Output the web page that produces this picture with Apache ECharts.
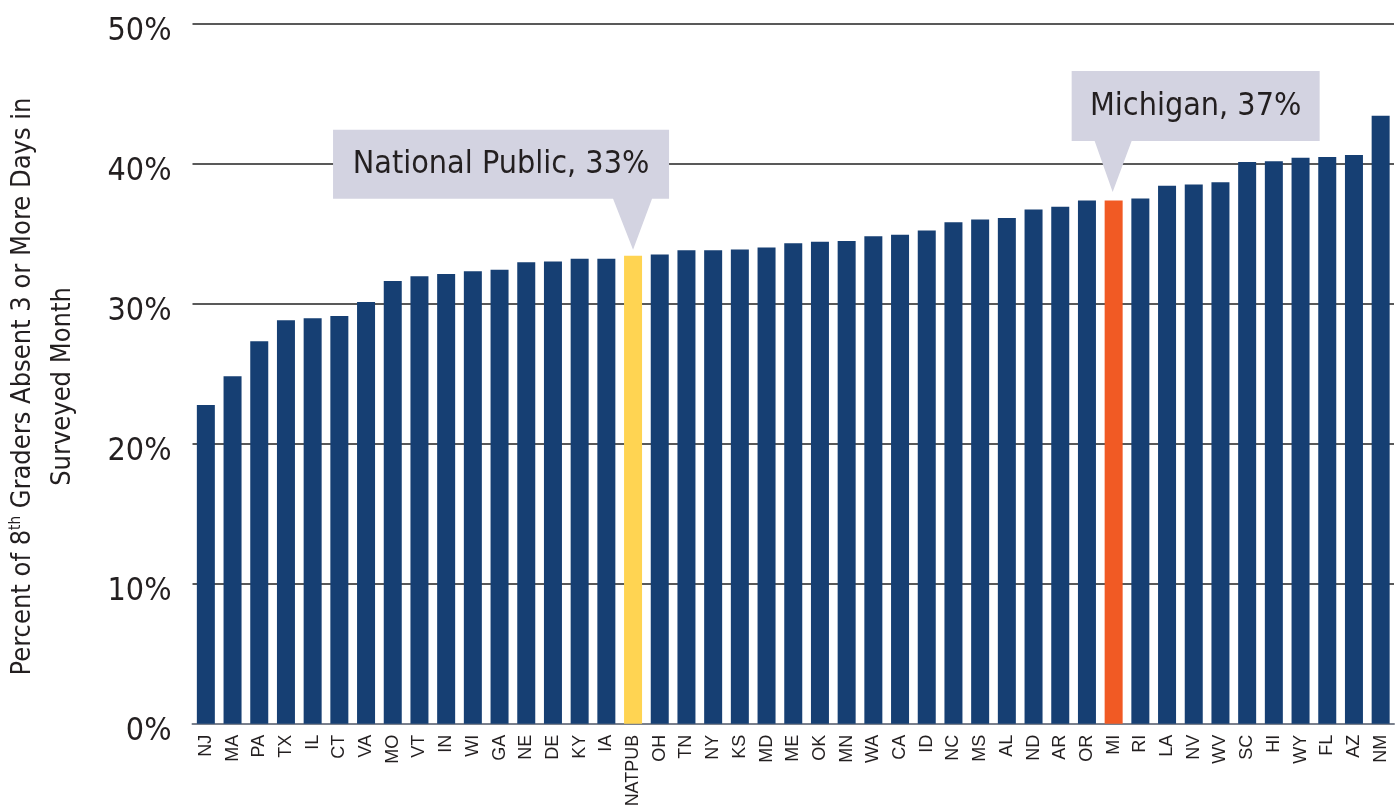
<!DOCTYPE html>
<html>
<head>
<meta charset="utf-8">
<script src="https://cdn.jsdelivr.net/npm/echarts@6/dist/echarts.min.js"></script>
<style>
  html, body { margin: 0; padding: 0; background: #fff; }
  #chart { width: 1396px; height: 808px; }
</style>
</head>
<body>
<div id="chart"></div>
<script>
// 州 / 全国数据
const states = ['NJ', 'MA', 'PA', 'TX', 'IL', 'CT', 'VA', 'MO', 'VT', 'IN', 'WI', 'GA', 'NE', 'DE', 'KY', 'IA',
  'NATPUB', 'OH', 'TN', 'NY', 'KS', 'MD', 'ME', 'OK', 'MN', 'WA', 'CA', 'ID', 'NC', 'MS', 'AL', 'ND', 'AR', 'OR',
  'MI', 'RI', 'LA', 'NV', 'WV', 'SC', 'HI', 'WY', 'FL', 'AZ', 'NM']
const absentPct = [22.75, 24.8, 27.3, 28.8, 28.95, 29.1, 30.1, 31.6, 31.95, 32.1, 32.3, 32.4, 32.95, 33.0, 33.2, 33.2,
  33.4, 33.5, 33.8, 33.8, 33.85, 34.0, 34.3, 34.4, 34.45, 34.8, 34.9, 35.2, 35.8, 36.0, 36.1, 36.7, 36.9, 37.35,
  37.35, 37.5, 38.4, 38.5, 38.65, 40.1, 40.15, 40.4, 40.45, 40.6, 43.4]
const yTicks = [0, 10, 20, 30, 40, 50]
const highlightNames = ['NATPUB', 'MI']
const highlightColors = ['#ffd452', '#f15a24']
const calloutNames = ['NATPUB', 'MI']
const calloutTexts = ['National Public, 33%', 'Michigan, 37%']

const BAR_COLOR = '#163f73'
const NARROW = "'Liberation Sans Narrow', 'DejaVu Sans Condensed', sans-serif"
const TEXT_COLOR = '#231f20'
const CALLOUT_BG = '#d3d3e1'

/**
 * 柱子数据 (高亮项单独上色)
 */
const barData = absentPct.map((v, i) => {
  const k = highlightNames.indexOf(states[i])
  return k >= 0 ? { value: v, itemStyle: { color: highlightColors[k] } } : v
})

// 提示框形状: 矩形 + 向下三角
const calloutShapes = {
  NATPUB: {
    path: 'path://M0 0 L336 0 L336 69 L319 69 L300 120 L280 69 L0 69 Z',
    size: [336, 120],
    offset: [-132, -66],
    labelOffset: [0, -25]
  },
  MI: {
    path: 'path://M0 0 L248 0 L248 70 L60 70 L41 121 L23 70 L0 70 Z',
    size: [248, 121],
    offset: [82, -69],
    labelOffset: [0, -25]
  }
}

const markData = calloutNames.map((name, i) => {
  const s = calloutShapes[name]
  return {
    coord: [name, absentPct[states.indexOf(name)]],
    symbol: s.path,
    symbolSize: s.size,
    symbolOffset: s.offset,
    symbolKeepAspect: false,
    itemStyle: { color: CALLOUT_BG },
    label: {
      show: true,
      position: 'inside',
      offset: s.labelOffset,
      formatter: calloutTexts[i],
      fontFamily: NARROW,
      fontSize: 32,
      color: TEXT_COLOR
    }
  }
})

const chart = echarts.init(document.getElementById('chart'), null, { renderer: 'canvas' })

const option = {
  animation: false,
  backgroundColor: '#fff',
  grid: {
    left: 192.5,
    right: 2,
    top: 23.3,
    bottom: 84.3,
    containLabel: false,
    outerBoundsMode: 'none'
  },
  xAxis: {
    type: 'category',
    data: states,
    axisTick: { show: false },
    axisLine: { show: true, lineStyle: { color: '#7a808c', width: 2 } },
    axisLabel: {
      interval: 0,
      rotate: 90,
      margin: 11,
      fontFamily: "'Liberation Sans', Arial, sans-serif",
      fontSize: 18,
      color: TEXT_COLOR
    }
  },
  yAxis: {
    type: 'value',
    min: yTicks[0],
    max: yTicks[yTicks.length - 1],
    interval: 10,
    axisLine: { show: false },
    axisTick: { show: false },
    splitLine: { lineStyle: { color: '#222', width: 1.5 } },
    axisLabel: {
      margin: 21,
      formatter: '{value}%',
      fontFamily: NARROW,
      fontSize: 32,
      color: TEXT_COLOR,
      verticalAlign: 'top',
      lineHeight: 16
    },
    name: '{a|Percent of 8}{sup|th}{a| Graders Absent 3 or More Days in}\n{a|Surveyed Month}',
    nameLocation: 'middle',
    nameGap: 110,
    nameTextStyle: {
      align: 'center',
      padding: [0, 26, 0, 0],
      rich: {
        a: { fontFamily: NARROW, fontSize: 27, color: TEXT_COLOR, lineHeight: 40 },
        sup: { fontFamily: NARROW, fontSize: 15, color: TEXT_COLOR, padding: [0, 0, 13, 0] }
      }
    }
  },
  series: [
    {
      type: 'bar',
      data: barData,
      barWidth: 18,
      itemStyle: { color: BAR_COLOR },
      markPoint: {
        data: markData
      }
    }
  ]
}

chart.setOption(option)
</script>
</body>
</html>
